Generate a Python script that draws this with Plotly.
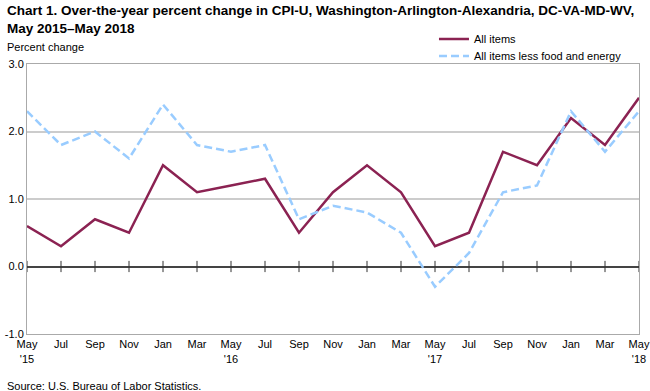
import plotly.graph_objects as go

months = ["May", "Jul", "Sep", "Nov", "Jan", "Mar", "May", "Jul", "Sep", "Nov",
          "Jan", "Mar", "May", "Jul", "Sep", "Nov", "Jan", "Mar", "May"]
years = ["'15", "", "", "", "", "", "'16", "", "", "", "", "", "'17", "", "", "", "", "", "'18"]
all_items = [0.6, 0.3, 0.7, 0.5, 1.5, 1.1, 1.2, 1.3, 0.5, 1.1,
             1.5, 1.1, 0.3, 0.5, 1.7, 1.5, 2.2, 1.8, 2.5]
core = [2.3, 1.8, 2.0, 1.6, 2.4, 1.8, 1.7, 1.8, 0.7, 0.9,
        0.8, 0.5, -0.3, 0.2, 1.1, 1.2, 2.3, 1.7, 2.3]

x = list(range(len(months)))
ticktext = [m + ("<br>" + y if y else "") for m, y in zip(months, years)]

fig = go.Figure()
# tick marks on the zero line
fig.add_trace(go.Scatter(x=x, y=[0] * len(x), mode="markers",
                         marker=dict(symbol="line-ns-open", size=8, color="#333333",
                                     line=dict(color="#333333", width=1)),
                         showlegend=False, hoverinfo="skip"))
fig.add_trace(go.Scatter(x=x, y=all_items, mode="lines", name="All items",
                         line=dict(color="#8B2252", width=2.5), legend="legend"))
fig.add_trace(go.Scatter(x=x, y=core, mode="lines", name="All items less food and energy",
                         line=dict(color="#99CCFF", width=2.5, dash="8px,4px"), legend="legend2"))

legend_common = dict(xanchor="left", yanchor="middle", bgcolor="rgba(0,0,0,0)",
                     font=dict(size=11), itemwidth=30)

fig.update_layout(
    width=650, height=391,
    margin=dict(l=27, r=11, t=64, b=57, autoexpand=False),
    plot_bgcolor="white", paper_bgcolor="white",
    font=dict(family="Liberation Sans, Arial, sans-serif", size=11, color="#000000"),
    legend=dict(x=0.665, y=1.0926, **legend_common),
    legend2=dict(x=0.665, y=1.0296, **legend_common),
    xaxis=dict(range=[0, 18], tickmode="array", tickvals=x, ticktext=ticktext,
               showgrid=False, zeroline=False, showline=True, mirror=True,
               linecolor="#AAAAAA", linewidth=1, ticks="", tickfont=dict(size=11),
               automargin=False),
    yaxis=dict(range=[-1, 3], tickvals=[-1, 0, 1, 2, 3],
               ticktext=["-1.0", "0.0", "1.0", "2.0", "3.0"],
               showgrid=True, gridcolor="#CCCCCC", gridwidth=1.5,
               zeroline=True, zerolinecolor="#444444", zerolinewidth=1.5,
               showline=True, mirror=True, linecolor="#AAAAAA", linewidth=1,
               ticks="", tickfont=dict(size=11), automargin=False),
    annotations=[
        dict(text="<b>Chart 1. Over-the-year percent change in CPI-U, Washington-Arlington-Alexandria, DC-VA-MD-WV,<br>May 2015–May 2018</b>",
             xref="paper", yref="paper", x=-0.036, y=1.235, xanchor="left", yanchor="top",
             align="left", showarrow=False,
             font=dict(size=13.5, family="Liberation Sans, Arial, sans-serif")),
        dict(text="Percent change", xref="paper", yref="paper", x=-0.036, y=1.035,
             xanchor="left", yanchor="bottom", showarrow=False, font=dict(size=11)),
        dict(text="Source: U.S. Bureau of Labor Statistics.", xref="paper", yref="paper",
             x=-0.036, y=-0.162, xanchor="left", yanchor="top", showarrow=False,
             font=dict(size=11)),
    ],
)

fig.write_html("out.html", config={"displayModeBar": False},
               post_script="document.body.style.margin='0';")
